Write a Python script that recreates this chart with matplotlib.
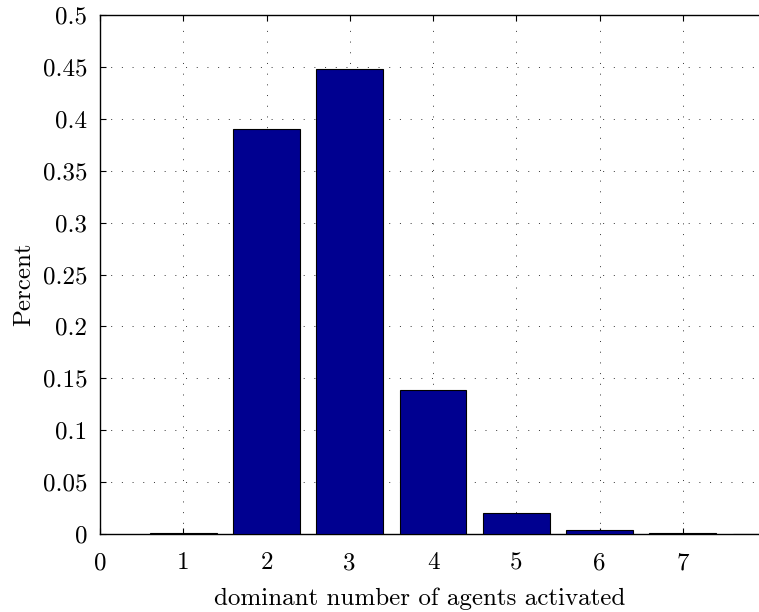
import matplotlib
matplotlib.use('Agg')
import matplotlib.pyplot as plt
import numpy as np

# data
agents = [1, 2, 3, 4, 5, 6, 7, 8]
percent = [0.0005, 0.390, 0.448, 0.139, 0.020, 0.0036, 0.0006, 0.0002]
x_ticks = [0, 1, 2, 3, 4, 5, 6, 7, 8]
x_labels = ['0', '1', '2', '3', '4', '5', '6', '7', '']
y_ticks = [0, 0.05, 0.1, 0.15, 0.2, 0.25, 0.3, 0.35, 0.4, 0.45, 0.5]
y_labels = ['0', '0.05', '0.1', '0.15', '0.2', '0.25', '0.3', '0.35', '0.4', '0.45', '0.5']

plt.rcParams['font.family'] = ['cmr10', 'DejaVu Serif']
plt.rcParams['axes.formatter.use_mathtext'] = True
plt.rcParams['mathtext.fontset'] = 'cm'

fig = plt.figure(figsize=(7.59, 6.12), dpi=100)
# axes runs past the right edge of the picture, as in the reference
ax = fig.add_axes([100 / 759, 1 - 534 / 612, 666 / 759, 519 / 612])

ax.bar(agents, percent, width=0.8, color='#000090', edgecolor='black', linewidth=0.8, zorder=3)

ax.set_xlim(0, 8)
ax.set_ylim(0, 0.5)
ax.set_xticks(x_ticks)
ax.set_yticks(y_ticks)
ax.set_xticklabels(x_labels)
ax.set_yticklabels(y_labels)
ax.tick_params(direction='in', length=4, width=0.8, labelsize=18, top=True, right=True)
ax.tick_params(axis='y', pad=9)
ax.tick_params(axis='x', pad=13)
ax.grid(True, linestyle=(0, (1, 10)), color='#333333', linewidth=0.7, zorder=0)
ax.set_axisbelow(True)
for s in ax.spines.values():
    s.set_linewidth(1.0)

ax.set_xlabel('dominant number of agents activated', fontsize=18)
ax.set_ylabel('Percent', fontsize=18)
ax.xaxis.set_label_coords(0.48, -0.103)
ax.yaxis.set_label_coords(-0.098, 0.481)

fig.savefig('out.png', dpi=100)
